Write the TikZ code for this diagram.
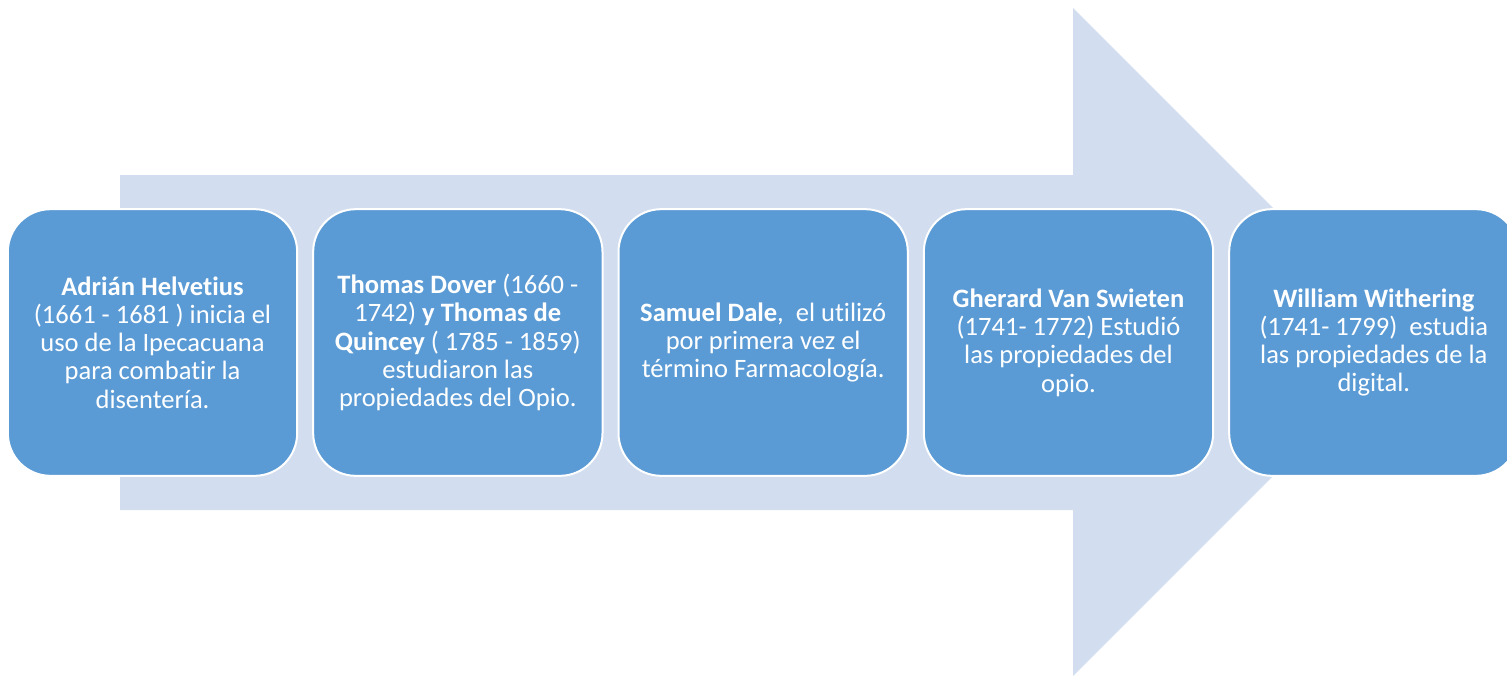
\documentclass[tikz,border=0pt]{standalone}
\usepackage{fontspec}
\setmainfont{Carlito}[Ligatures=NoCommon]
\usetikzlibrary{positioning}
\definecolor{stepblue}{HTML}{5B9BD5}
\definecolor{arrowblue}{HTML}{D2DEEF}
\tikzset{
  stepbox/.style={draw=white, line width=1.5pt, fill=stepblue, rounded corners=32pt,
    minimum width=217pt, minimum height=200pt, align=center, text=white,
    font=\fontsize{19.9}{21.2}\selectfont, inner sep=0pt}
}
\begin{document}
\begin{tikzpicture}[x=0.75pt,y=-0.75pt]
\useasboundingbox (0,0) rectangle (1507,676);
\clip (0,0) rectangle (1507,676);

\fill[arrowblue] (120,175) -- (1073,175) -- (1073,8) -- (1407,342) -- (1073,676) -- (1073,510) -- (120,510) -- cycle;

\node[stepbox] (helvetius) at (152.5,342.5) {\textbf{Adrián Helvetius}\\(1661 - 1681 ) inicia el\\uso de la Ipecacuana\\para combatir la\\disentería.};
\node[stepbox, right=10.5pt of helvetius] (dover) {\textbf{Thomas Dover} (1660 -\\1742) \textbf{y Thomas de}\\\textbf{Quincey} ( 1785 - 1859)\\estudiaron las\\propiedades del Opio.};
\node[stepbox, right=10.5pt of dover] (dale) {\textbf{Samuel Dale},\ \ el utilizó\\por primera vez el\\término Farmacología.};
\node[stepbox, right=10.5pt of dale] (swieten) {\textbf{Gherard Van Swieten}\\(1741- 1772) Estudió\\las propiedades del\\opio.};
\node[stepbox, right=10.5pt of swieten] (withering) {\textbf{William Withering}\\(1741- 1799)\ \ estudia\\las propiedades de la\\digital.};
\end{tikzpicture}
\end{document}
